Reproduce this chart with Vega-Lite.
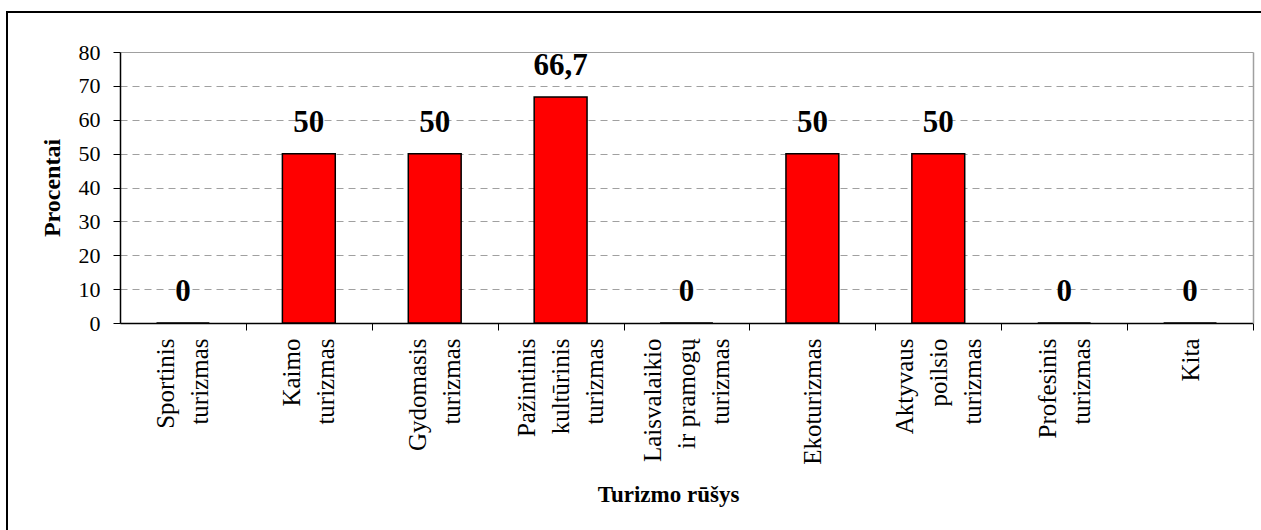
{
  "$schema": "https://vega.github.io/schema/vega-lite/v6.json",
  "width": 1254,
  "height": 518,
  "autosize": {"type": "none"},
  "padding": {"left": 7, "top": 12, "right": 0, "bottom": 0},
  "background": "white",
  "data": {
    "values": [
      {"rusis": "Sportinis\nturizmas", "procentai": 0},
      {"rusis": "Kaimo\nturizmas", "procentai": 50},
      {"rusis": "Gydomasis\nturizmas", "procentai": 50},
      {"rusis": "Pažintinis\nkultūrinis\nturizmas", "procentai": 66.7},
      {"rusis": "Laisvalaikio\nir pramogų\nturizmas", "procentai": 0},
      {"rusis": "Ekoturizmas", "procentai": 50},
      {"rusis": "Aktyvaus\npoilsio\nturizmas", "procentai": 50},
      {"rusis": "Profesinis\nturizmas", "procentai": 0},
      {"rusis": "Kita", "procentai": 0}
    ]
  },
  "encoding": {
    "x": {
      "field": "rusis",
      "type": "nominal",
      "sort": null,
      "scale": {"range": [113, 1246], "paddingInner": 0.58, "paddingOuter": 0.29},
      "axis": {
        "title": "Turizmo rūšys",
        "orient": "bottom",
        "offset": -207,
        "labelExpr": "split(datum.label, '\\n')",
        "labelAngle": -90,
        "labelAlign": "right",
        "labelBaseline": "middle",
        "labelFont": "Liberation Serif",
        "labelFontSize": 25,
        "labelLineHeight": 34,
        "labelColor": "black",
        "labelPadding": 8,
        "labelLimit": 0,
        "labelOverlap": false,
        "bandPosition": 1,
        "tickOffset": 36.5,
        "labelOffset": {
          "condition": [
            {"test": "length(split(datum.value, '\\n')) === 3", "value": -70.5},
            {"test": "length(split(datum.value, '\\n')) === 2", "value": -53.5}
          ],
          "value": -36.5
        },
        "tickSize": 7,
        "tickColor": "black",
        "tickWidth": 1,
        "domainColor": "black",
        "domainWidth": 1.5,
        "grid": false,
        "titleFont": "Liberation Serif",
        "titleFontSize": 23,
        "titleFontWeight": "bold",
        "titleColor": "black",
        "titleX": 661,
        "titleY": 178,
        "titleBaseline": "alphabetic",
        "titleAlign": "center",
        "titleAnchor": null
      }
    }
  },
  "layer": [
    {
      "mark": {"type": "bar", "color": "#ff0000", "stroke": "black", "strokeWidth": 1.5},
      "encoding": {
        "y": {
          "field": "procentai",
          "type": "quantitative",
          "scale": {"domain": [0, 80], "range": [311, 40], "nice": false, "zero": true},
          "axis": {
            "title": "Procentai",
            "orient": "left",
            "offset": -113,
            "values": [0, 10, 20, 30, 40, 50, 60, 70, 80],
            "format": "d",
            "labelFont": "Liberation Serif",
            "labelFontSize": 22,
            "labelColor": "black",
            "labelPadding": 13,
            "tickSize": 7,
            "tickColor": "black",
            "domainColor": "black",
            "domainWidth": 1.5,
            "grid": true,
            "gridColor": "#a0a0a0",
            "gridWidth": 1.2,
            "gridDash": {"condition": {"test": "datum.value === 80", "value": []}, "value": [7, 5]},
            "titleFont": "Liberation Serif",
            "titleFontSize": 24,
            "titleFontWeight": "bold",
            "titleColor": "black",
            "titleAngle": -90,
            "titleX": -61,
            "titleBaseline": "alphabetic",
            "titleAlign": "center"
          }
        }
      }
    },
    {
      "mark": {
        "type": "text",
        "font": "Liberation Serif",
        "fontSize": 31,
        "fontWeight": "bold",
        "color": "black",
        "baseline": "alphabetic",
        "dy": -22
      },
      "encoding": {
        "y": {
          "field": "procentai",
          "type": "quantitative",
          "axis": {
            "orient": "right",
            "offset": -8,
            "title": null,
            "labels": false,
            "ticks": false,
            "grid": false,
            "domainColor": "#a0a0a0",
            "domainWidth": 1.5
          }
        },
        "text": {"field": "procentai", "type": "quantitative", "format": ".3~g"}
      }
    }
  ],
  "resolve": {"axis": {"y": "independent"}},
  "config": {
    "locale": {
      "number": {"decimal": ",", "thousands": " ", "grouping": [3], "currency": ["", " €"]}
    },
    "view": {
      "stroke": "black",
      "strokeWidth": 2,
      "strokeDash": [1254, 1772, 518],
      "fill": "white"
    }
  }
}
